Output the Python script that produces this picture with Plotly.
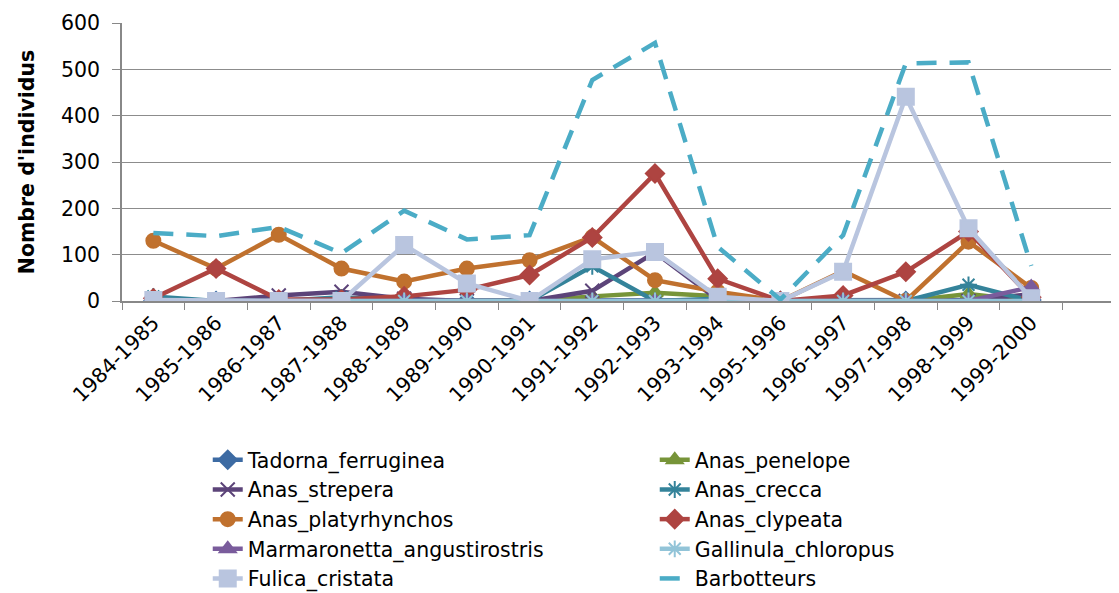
import plotly.graph_objects as go

categories = ["1984-1985", "1985-1986", "1986-1987", "1987-1988", "1988-1989",
              "1989-1990", "1990-1991", "1991-1992", "1992-1993", "1993-1994",
              "1995-1996", "1996-1997", "1997-1998", "1998-1999", "1999-2000"]

tadorna_ferruginea = [0, 0, 0, 0, 0, 0, 0, 0, 0, 0, 0, 0, 0, 0, 2]
anas_penelope = [0, 0, 0, 0, 0, 0, 0, 10, 18, 10, 0, 0, 0, 15, 0]
anas_strepera = [0, 0, 12, 20, 5, 0, 0, 22, 105, 3, 0, 0, 0, 0, 15]
anas_crecca = [10, 0, 0, 8, 0, 0, 0, 75, 0, 5, 0, 0, 0, 35, 0]
anas_platyrhynchos = [130, 70, 143, 70, 42, 70, 88, 138, 45, 20, 0, 65, 0, 128, 28]
anas_clypeata = [6, 70, 3, 3, 10, 24, 56, 137, 275, 48, 0, 12, 63, 150, 8]
marmaronetta_angustirostris = [0, 0, 0, 0, 0, 0, 0, 0, 0, 0, 0, 0, 0, 0, 30]
gallinula_chloropus = [0, 0, 0, 0, 0, 0, 0, 0, 0, 0, 0, 0, 0, 0, 0]
fulica_cristata = [2, 0, 0, 0, 121, 38, 0, 90, 106, 9, 0, 63, 441, 157, 6]
barbotteurs = [147, 140, 160, 103, 195, 133, 142, 477, 557, 117, 3, 142, 513, 515, 76]

y_ticks = [0, 100, 200, 300, 400, 500, 600]

series = [
    ("Tadorna_ferruginea", tadorna_ferruginea, "#3D6BA3", "diamond", 14, None),
    ("Anas_penelope", anas_penelope, "#779439", "triangle-up", 14, None),
    ("Anas_strepera", anas_strepera, "#5C4479", "x-thin-open", 14, None),
    ("Anas_crecca", anas_crecca, "#34839A", "asterisk-open", 14, None),
    ("Anas_platyrhynchos", anas_platyrhynchos, "#C0712E", "circle", 14, None),
    ("Anas_clypeata", anas_clypeata, "#AE4441", "diamond", 14, None),
    ("Marmaronetta_angustirostris", marmaronetta_angustirostris, "#7A5C9C", "triangle-up", 14, None),
    ("Gallinula_chloropus", gallinula_chloropus, "#92C4D8", "asterisk-open", 14, None),
    ("Fulica_cristata", fulica_cristata, "#B9C5DF", "square", 16, None),
    ("Barbotteurs", barbotteurs, "#4BACC6", None, 0, "20px,13px"),
]

FONT = "DejaVu Sans, sans-serif"

fig = go.Figure()
for name, vals, color, sym, msize, dash in series:
    if sym is None:
        fig.add_trace(go.Scatter(
            x=categories, y=vals, name=name, mode="lines",
            line=dict(color=color, width=4.5, dash=dash),
        ))
    else:
        fig.add_trace(go.Scatter(
            x=categories, y=vals, name=name, mode="lines+markers",
            line=dict(color=color, width=4.5),
            marker=dict(symbol=sym, size=msize, color=color,
                        line=dict(color=color, width=2)),
        ))

fig.update_layout(
    width=1111, height=585,
    margin=dict(l=114, r=0, t=15, b=292, autoexpand=False),
    plot_bgcolor="white", paper_bgcolor="white",
    font=dict(family=FONT, size=20.5, color="black"),
    showlegend=True,
    legend=dict(
        orientation="h", x=0.086, y=-0.500, xanchor="left", yanchor="top",
        entrywidth=402, entrywidthmode="pixels",
        font=dict(family=FONT, size=20.5), bgcolor="rgba(0,0,0,0)",
        traceorder="normal",
    ),
    xaxis=dict(
        type="category", range=[-0.5, 15.4], automargin=False,
        tickangle=-45, ticks="outside", tickson="boundaries",
        ticklen=7, tickcolor="#888888", tickwidth=1.2,
        showline=True, linecolor="#888888", linewidth=1.5,
        showgrid=False, tickfont=dict(family=FONT, size=20.5),
    ),
    yaxis=dict(
        range=[0, 600], tickvals=y_ticks, ticks="outside", ticklen=8,
        tickcolor="#888888", tickwidth=1.2, automargin=False,
        showline=True, linecolor="#888888", linewidth=1.5,
        showgrid=True, gridcolor="#8C8C8C", gridwidth=1.2, zeroline=False,
        tickfont=dict(family=FONT, size=20.5), ticklabelstandoff=8,
        title=dict(text="<b>Nombre d'individus</b>",
                   font=dict(family=FONT, size=20.5), standoff=21),
    ),
)

fig.write_html("out.html")
